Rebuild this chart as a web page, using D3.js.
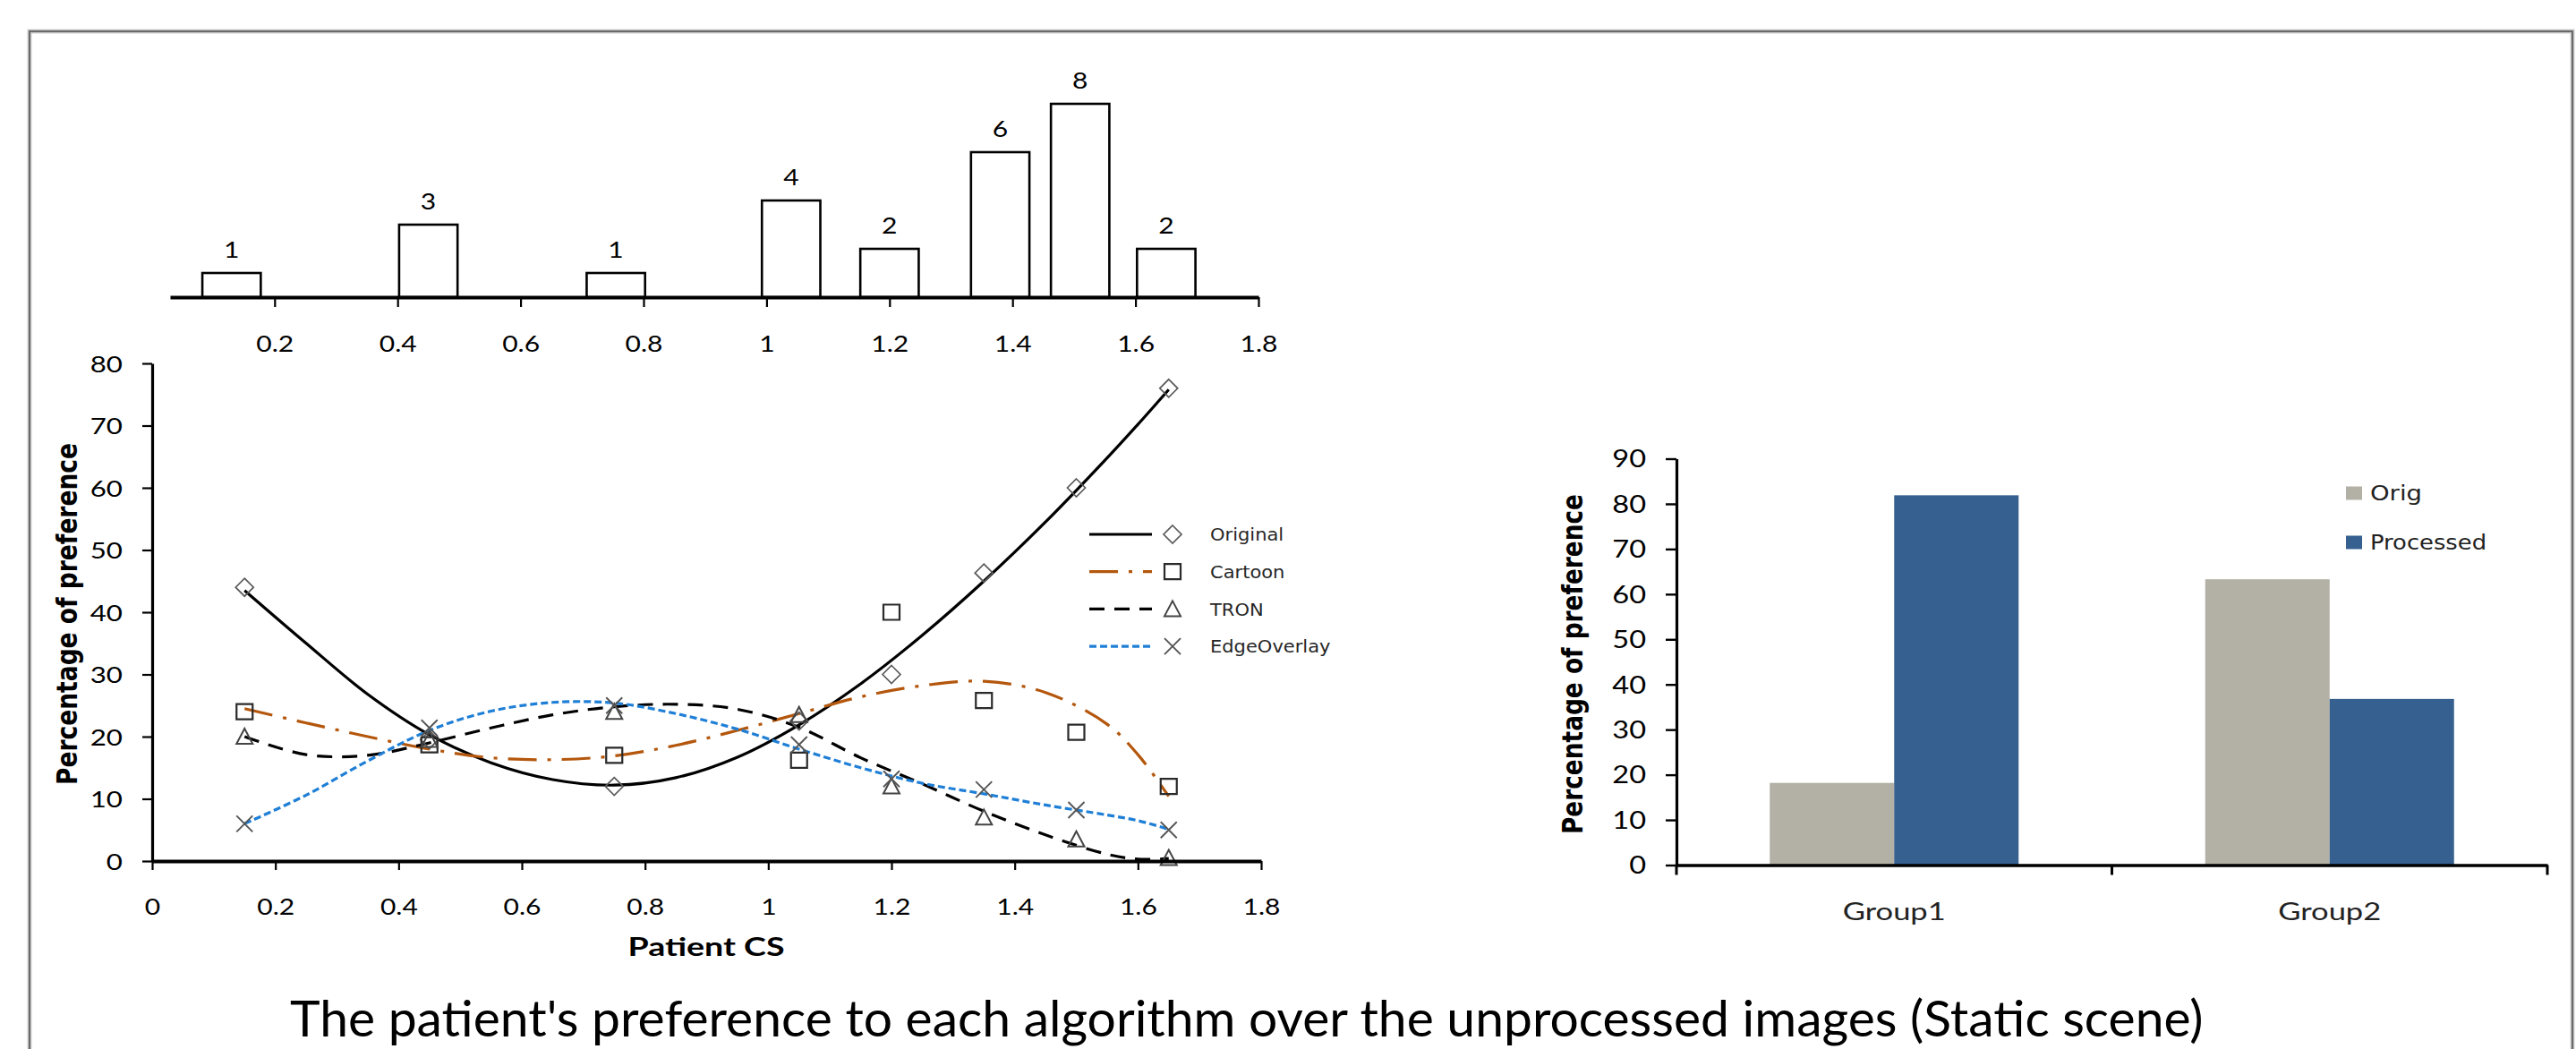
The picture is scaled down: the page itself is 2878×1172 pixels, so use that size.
<!DOCTYPE html>
<html><head><meta charset="utf-8">
<script src="https://cdn.jsdelivr.net/npm/d3@7"></script>
<style>body{margin:0;background:#fff}svg{display:block}</style>
</head><body><svg id="c" width="2878" height="1172"></svg>
<script>
// ---------------- DATA ----------------
const histCS = [0.13, 0.45, 0.755, 1.04, 1.2, 1.38, 1.51, 1.65];
const histCount = [1, 3, 1, 4, 2, 6, 8, 2];
const histTicks = [0.2, 0.4, 0.6, 0.8, 1, 1.2, 1.4, 1.6, 1.8];

const seriesNames = ["Original", "Cartoon", "TRON", "EdgeOverlay"];
const cs = [0.15, 0.45, 0.75, 1.05, 1.2, 1.35, 1.5, 1.65];
const original    = [44, 19.5, 12, 22.5, 30, 46.3, 60, 76];
const cartoon     = [24, 18.7, 17, 16.2, 40, 25.8, 20.7, 12];
const tron        = [20, 19.5, 24, 23.5, 12, 7, 3.5, 0.5];
const edgeOverlay = [6, 21.4, 25, 18.7, 13.2, 11.5, 8.2, 5];

// trendline values
const trendCS = [0.15, 0.25, 0.35, 0.45, 0.55, 0.65, 0.75, 0.85, 0.95, 1.05, 1.15, 1.25, 1.35, 1.45, 1.55, 1.6, 1.65];
const trendOriginal    = [43.5, 35.0, 26.8, 20.3, 15.8, 13.1, 12.2, 13.4, 16.7, 21.9, 28.5, 36.3, 45.0, 54.5, 64.8, 70.2, 75.8];
const trendCartoon     = [24.5, 22.2, 20.0, 18.0, 16.6, 16.3, 16.9, 18.6, 21.0, 23.7, 26.4, 28.2, 28.9, 27.1, 22.0, 17.1, 10.4];
const trendTron        = [20.0, 17.1, 17.0, 19.0, 21.4, 23.5, 24.8, 25.2, 24.4, 21.5, 16.6, 12.4, 8.0, 4.2, 1.1, 0.3, 0.4];
const trendEdgeOverlay = [6.0, 10.6, 16.1, 21.0, 24.1, 25.5, 25.4, 23.7, 21.2, 18.0, 15.0, 12.5, 10.8, 9.0, 7.4, 6.5, 5.1];

const csTicks = [0, 0.2, 0.4, 0.6, 0.8, 1, 1.2, 1.4, 1.6, 1.8];
const prefTicks = [0, 10, 20, 30, 40, 50, 60, 70, 80];

const groups = ["Group1", "Group2"];
const barSeries = ["Orig", "Processed"];
const origValues = [18.2, 63.3];
const processedValues = [81.9, 36.8];
const barTicks = [0, 10, 20, 30, 40, 50, 60, 70, 80, 90];

const xTitle = "Patient CS";
const yTitle = "Percentage of preference";
const caption = "The patient's preference to each algorithm over the unprocessed images (Static scene)";

// ---------------- HELPERS ----------------
const svg = d3.select("#c");
const NUM_FONT = "Lato, 'Open Sans', sans-serif";
const LEG_FONT = "'DejaVu Sans', Verdana, sans-serif";
function stretch(sel, f) {
  sel.each(function () {
    const L = this.getComputedTextLength();
    this.setAttribute("textLength", L * f);
    this.setAttribute("lengthAdjust", "spacingAndGlyphs");
  });
}
function fitW(sel, w) { sel.attr("textLength", w).attr("lengthAdjust", "spacingAndGlyphs"); }
const fmt = d => String(+(+d).toFixed(2));

// frame
svg.append("rect").attr("x", 33).attr("y", 35).attr("width", 2841).attr("height", 1200)
  .attr("fill", "none").attr("stroke", "#d0d0d0").attr("stroke-width", 5);
svg.append("rect").attr("x", 33).attr("y", 35).attr("width", 2841).attr("height", 1200)
  .attr("fill", "none").attr("stroke", "#6a6a6a").attr("stroke-width", 2.2);

// ---------------- HISTOGRAM ----------------
const xH = d3.scaleLinear([0.03, 1.8], [190, 1406]);
const yH = d3.scaleLinear([0, 8], [332, 116]);
const binW = 0.095;
const hist = svg.append("g");
const histData = histCS.map((c, i) => ({ c, n: histCount[i] }));
hist.selectAll("rect.bar").data(histData).join("rect").attr("class", "bar")
  .attr("x", d => xH(d.c - binW / 2)).attr("width", d => xH(d.c + binW / 2) - xH(d.c - binW / 2))
  .attr("y", d => yH(d.n)).attr("height", d => yH(0) - yH(d.n))
  .attr("fill", "#fff").attr("stroke", "#000").attr("stroke-width", 2.6);
hist.selectAll("text.cnt").data(histData).join("text").attr("class", "cnt")
  .attr("x", d => xH(d.c)).attr("y", d => yH(d.n) - 17)
  .attr("text-anchor", "middle").attr("font-family", NUM_FONT).attr("font-size", 25)
  .text(d => d.n);
const hAx = hist.append("g").attr("transform", `translate(0,${yH(0)})`)
  .call(d3.axisBottom(xH).tickValues(histTicks).tickFormat(fmt).tickSize(11).tickSizeOuter(0));
hAx.select(".domain").attr("stroke-width", 4);
hAx.selectAll(".tick line").attr("stroke-width", 2.2);
hAx.selectAll(".tick text").attr("y", 61).attr("dy", 0).attr("font-family", NUM_FONT)
  .attr("font-size", 25).attr("fill", "#000");
stretch(hist.selectAll("text"), 1.2);

// ---------------- LINE CHART ----------------
const x = d3.scaleLinear([0, 1.8], [170, 1409]);
const y = d3.scaleLinear([0, 80], [962, 406]);
const main = svg.append("g");

const series = [
  { name: "Original", vals: original, trend: trendOriginal, color: "#000", dash: null, marker: "diamond" },
  { name: "Cartoon", vals: cartoon, trend: trendCartoon, color: "#b4570d", dash: "32,12,4,12", marker: "square" },
  { name: "TRON", vals: tron, trend: trendTron, color: "#000", dash: "17,11", marker: "triangle" },
  { name: "EdgeOverlay", vals: edgeOverlay, trend: trendEdgeOverlay, color: "#1f7fd6", dash: "8,4", marker: "x" }
];
const markerPath = {
  diamond: "M0,-10L10,0L0,10L-10,0Z",
  square: "M-9,-8.5H9V8.5H-9Z",
  triangle: "M0,-9L9,8H-9Z",
  x: "M-9,-9L9,9M-9,9L9,-9"
};
const markerStroke = { diamond: "#5a5a5a", square: "#2a2a2a", triangle: "#444", x: "#555" };
const markerWidth = { diamond: 1.7, square: 2.2, triangle: 2, x: 1.9 };

const line = d3.line().x((d, i) => x(trendCS[i])).y(d => y(d)).curve(d3.curveCatmullRom.alpha(0.5));
series.forEach(s => {
  main.append("path").attr("d", line(s.trend)).attr("fill", "none")
    .attr("stroke", s.color).attr("stroke-width", 3.2)
    .attr("stroke-dasharray", s.dash);
});
series.forEach(s => {
  main.append("g").selectAll("path").data(s.vals).join("path")
    .attr("transform", (d, i) => `translate(${x(cs[i])},${y(d)})`)
    .attr("d", markerPath[s.marker]).attr("fill", "none")
    .attr("stroke", markerStroke[s.marker]).attr("stroke-width", markerWidth[s.marker]);
});

const xAx = main.append("g").attr("transform", `translate(0,${y(0)})`)
  .call(d3.axisBottom(x).tickValues(csTicks).tickFormat(fmt).tickSize(10).tickSizeOuter(0));
xAx.select(".domain").attr("stroke-width", 4.2);
xAx.selectAll(".tick line").attr("stroke-width", 2.2);
xAx.selectAll(".tick text").attr("y", 60).attr("dy", 0).attr("font-family", NUM_FONT)
  .attr("font-size", 25).attr("fill", "#000");
stretch(xAx.selectAll(".tick text"), 1.2);

const yAx = main.append("g").attr("transform", `translate(${x(0)},0)`)
  .call(d3.axisLeft(y).tickValues(prefTicks).tickSize(11).tickPadding(22).tickSizeOuter(0));
yAx.select(".domain").attr("stroke-width", 3.2);
yAx.selectAll(".tick line").attr("stroke-width", 2.2);
yAx.selectAll(".tick text").attr("dy", "0.36em").attr("font-family", NUM_FONT)
  .attr("font-size", 25).attr("fill", "#000");
stretch(yAx.selectAll(".tick text"), 1.25);

main.append("text").attr("x", 789).attr("y", 1068).attr("text-anchor", "middle")
  .attr("font-family", NUM_FONT).attr("font-weight", 700).attr("font-size", 29)
  .text(xTitle).call(fitW, 175);

main.append("text").attr("transform", "translate(86,686) scale(1.2,1) rotate(-90)")
  .attr("text-anchor", "middle").attr("font-family", LEG_FONT).attr("font-weight", 700)
  .attr("font-size", 26).text(yTitle).call(fitW, 382);

// legend
const leg = main.append("g");
series.forEach((s, i) => {
  const ly = 597 + i * 41.7;
  leg.append("line").attr("x1", 1217).attr("x2", 1287).attr("y1", ly).attr("y2", ly)
    .attr("stroke", s.color).attr("stroke-width", 3.2).attr("stroke-dasharray", s.dash);
  leg.append("path").attr("transform", `translate(1310,${ly})`).attr("d", markerPath[s.marker])
    .attr("fill", "none").attr("stroke", markerStroke[s.marker]).attr("stroke-width", markerWidth[s.marker]);
  leg.append("text").attr("x", 1352).attr("y", ly).attr("dy", "0.36em")
    .attr("font-family", LEG_FONT).attr("font-size", 20).attr("fill", "#262626")
    .text(s.name).call(stretch, 1.05);
});

// ---------------- BAR CHART ----------------
const yR = d3.scaleLinear([0, 90], [966.5, 512.5]);
const xG = d3.scaleBand(groups, [1873, 2846]).padding(0);
const xS = d3.scaleBand(barSeries, [0, xG.bandwidth()]).paddingInner(0).paddingOuter(0.75);
const barColor = { Orig: "#b3b1a5", Processed: "#36608f" };
const bars = svg.append("g");
const barData = [];
groups.forEach((g, i) => {
  barData.push({ g, s: "Orig", v: origValues[i] });
  barData.push({ g, s: "Processed", v: processedValues[i] });
});
bars.selectAll("rect").data(barData).join("rect")
  .attr("x", d => xG(d.g) + xS(d.s)).attr("width", xS.bandwidth())
  .attr("y", d => yR(d.v)).attr("height", d => yR(0) - yR(d.v))
  .attr("fill", d => barColor[d.s]);

const ryAx = bars.append("g").attr("transform", `translate(${xG.range()[0]},0)`)
  .call(d3.axisLeft(yR).tickValues(barTicks).tickSize(12).tickPadding(22).tickSizeOuter(0));
ryAx.select(".domain").attr("stroke-width", 3.2);
ryAx.selectAll(".tick line").attr("stroke-width", 2.4);
ryAx.selectAll(".tick text").attr("dy", "0.36em").attr("font-family", NUM_FONT)
  .attr("font-size", 26).attr("fill", "#000");
stretch(ryAx.selectAll(".tick text"), 1.25);

const rxAx = bars.append("g").attr("transform", `translate(0,${yR(0)})`)
  .call(d3.axisBottom(xG).tickSize(0).tickSizeOuter(0));
rxAx.select(".domain").attr("stroke-width", 3.6);
rxAx.selectAll(".tick text").attr("y", 61).attr("dy", 0).attr("font-family", NUM_FONT)
  .attr("font-size", 26).attr("fill", "#222").call(fitW, 115);
const bounds = groups.map(g => xG(g)).concat([xG.range()[1]]);
rxAx.selectAll("line.bnd").data(bounds).join("line").attr("class", "bnd")
  .attr("x1", d => d).attr("x2", d => d).attr("y1", 0).attr("y2", 11)
  .attr("stroke", "#000").attr("stroke-width", 3);

bars.append("text").attr("transform", "translate(1768,742) scale(1.2,1) rotate(-90)")
  .attr("text-anchor", "middle").attr("font-family", LEG_FONT).attr("font-weight", 700)
  .attr("font-size", 26).text(yTitle).call(fitW, 380);

const rleg = bars.append("g");
barSeries.forEach((s, i) => {
  const ly = 551 + i * 55;
  rleg.append("rect").attr("x", 2621).attr("y", ly - 7.5).attr("width", 18).attr("height", 15)
    .attr("fill", barColor[s]);
  rleg.append("text").attr("x", 2648).attr("y", ly).attr("dy", "0.36em")
    .attr("font-family", LEG_FONT).attr("font-size", 23).attr("fill", "#222")
    .text(s).call(fitW, s === "Orig" ? 58 : 130);
});

// ---------------- CAPTION ----------------
svg.append("text").attr("x", 324).attr("y", 1158)
  .attr("font-family", NUM_FONT).attr("font-size", 57).attr("fill", "#000")
  .text(caption);
</script></body></html>
